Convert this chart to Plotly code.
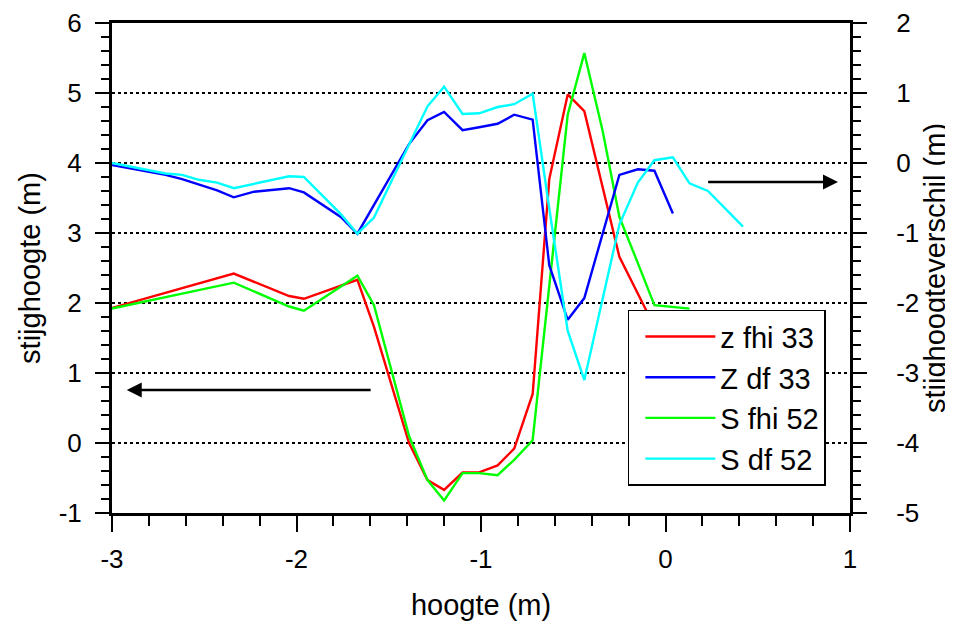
import plotly.graph_objects as go

# ---- data (left axis: stijghoogte, right axis: stijghoogteverschil) ----
x_z_fhi_33 = [-3.0, -2.34, -2.04, -1.96, -1.67, -1.58, -1.39, -1.29, -1.20, -1.10,
              -1.01, -0.91, -0.82, -0.72, -0.63, -0.53, -0.44, -0.25, -0.06]
y_z_fhi_33 = [1.93, 2.42, 2.10, 2.06, 2.33, 1.66, 0.00, -0.53, -0.67, -0.42,
              -0.42, -0.32, -0.08, 0.70, 3.77, 4.98, 4.74, 2.66, 1.66]

x_Z_df_33 = [-3.0, -2.71, -2.62, -2.53, -2.43, -2.34, -2.23, -2.04, -1.96, -1.76,
             -1.67, -1.39, -1.29, -1.20, -1.10, -1.01, -0.91, -0.82, -0.72, -0.63,
             -0.53, -0.44, -0.25, -0.15, -0.06, 0.04]
y_Z_df_33 = [-0.03, -0.17, -0.23, -0.31, -0.39, -0.49, -0.41, -0.36, -0.42, -0.77,
             -1.01, 0.27, 0.61, 0.73, 0.47, 0.51, 0.56, 0.69, 0.62, -1.46,
             -2.24, -1.93, -0.17, -0.09, -0.11, -0.72]

x_S_fhi_52 = [-3.0, -2.34, -2.04, -1.96, -1.67, -1.58, -1.39, -1.29, -1.20, -1.10,
              -1.01, -0.91, -0.82, -0.72, -0.53, -0.44, -0.34, -0.25, -0.15, -0.06, 0.13]
y_S_fhi_52 = [1.92, 2.29, 1.95, 1.89, 2.39, 1.97, 0.10, -0.53, -0.82, -0.43,
              -0.43, -0.46, -0.24, 0.04, 4.69, 5.57, 4.45, 3.23, 2.57, 1.97, 1.92]

x_S_df_52 = [-3.0, -2.71, -2.62, -2.53, -2.43, -2.34, -2.04, -1.96, -1.76, -1.67,
             -1.58, -1.39, -1.29, -1.20, -1.10, -1.01, -0.91, -0.82, -0.72, -0.63,
             -0.53, -0.44, -0.25, -0.15, -0.06, 0.04, 0.13, 0.23, 0.42]
y_S_df_52 = [0.00, -0.15, -0.17, -0.24, -0.28, -0.36, -0.19, -0.20, -0.73, -1.01,
             -0.78, 0.27, 0.81, 1.09, 0.70, 0.71, 0.80, 0.84, 0.99, -0.65,
             -2.40, -3.10, -0.88, -0.28, 0.04, 0.08, -0.29, -0.40, -0.91]

# tick labels (plain hyphen minus, as in the original)
x_ticks = [-3, -2, -1, 0, 1]
x_ticklabels = ["-3", "-2", "-1", "0", "1"]
y_ticks = [-1, 0, 1, 2, 3, 4, 5, 6]
y_ticklabels = ["-1", "0", "1", "2", "3", "4", "5", "6"]
y2_ticks = [-5, -4, -3, -2, -1, 0, 1, 2]
y2_ticklabels = ["-5", "-4", "-3", "-2", "-1", "0", "1", "2"]

FONT = "Liberation Sans, Arial, sans-serif"
LW = 2.4
TICKFS = 26
TITLEFS = 29

fig = go.Figure()
fig.add_trace(go.Scatter(x=x_z_fhi_33, y=y_z_fhi_33, name="z fhi 33", mode="lines",
                         line=dict(color="#FF0000", width=LW), legendgroup="a"))
fig.add_trace(go.Scatter(x=x_Z_df_33, y=y_Z_df_33, name="Z df 33", mode="lines", yaxis="y2",
                         line=dict(color="#0000FF", width=LW), legendgroup="b"))
fig.add_trace(go.Scatter(x=x_S_fhi_52, y=y_S_fhi_52, name="S fhi 52", mode="lines",
                         line=dict(color="#00FF00", width=LW), legendgroup="c"))
fig.add_trace(go.Scatter(x=x_S_df_52, y=y_S_df_52, name="S df 52", mode="lines", yaxis="y2",
                         line=dict(color="#00FFFF", width=LW), legendgroup="d"))

axis_common = dict(showline=True, linewidth=3, linecolor="black", zeroline=False,
                   ticks="outside", tickwidth=2, tickcolor="black", automargin=False,
                   tickfont=dict(family=FONT, size=TICKFS, color="black"))

# the page body adds an 8px offset, so the figure is 8px smaller on each side
fig.update_layout(
    width=945, height=618,
    margin=dict(l=104, r=103, t=15, b=113),
    paper_bgcolor="white", plot_bgcolor="white",
    font=dict(family=FONT, size=TICKFS, color="black"),
    xaxis=dict(range=[-3, 1], tickmode="array", tickvals=x_ticks, ticktext=x_ticklabels,
               ticklen=16, mirror=True, showgrid=False,
               minor=dict(tickmode="linear", tick0=-3, dtick=0.2, ticks="outside", ticklen=10,
                          tickwidth=2, tickcolor="black", showgrid=False),
               ticklabelstandoff=5,
               title=dict(text="hoogte (m)", standoff=22, font=dict(family=FONT, size=TITLEFS)),
               **axis_common),
    yaxis=dict(range=[-1, 6], tickmode="array", tickvals=y_ticks, ticktext=y_ticklabels,
               ticklen=14,
               showgrid=True, gridcolor="black", griddash="dot", gridwidth=1.5,
               minor=dict(tickmode="linear", tick0=-1, dtick=0.2, ticks="outside", ticklen=8,
                          tickwidth=2, tickcolor="black", showgrid=False),
               ticklabelstandoff=8,
               title=dict(text="stijghoogte (m)", standoff=10, font=dict(family=FONT, size=TITLEFS)),
               **axis_common),
    yaxis2=dict(range=[-5, 2], tickmode="array", tickvals=y2_ticks, ticktext=y2_ticklabels,
                ticklen=14, overlaying="y", side="right",
                showgrid=False,
                minor=dict(tickmode="linear", tick0=-5, dtick=0.2, ticks="outside", ticklen=8,
                           tickwidth=2, tickcolor="black", showgrid=False),
                ticklabelstandoff=24,
                title=dict(text="stijghoogteverschil (m)", standoff=5, font=dict(family=FONT, size=TITLEFS)),
                **axis_common),
    legend=dict(x=0.699, y=0.415, xanchor="left", yanchor="top",
                bgcolor="white", bordercolor="black", borderwidth=1.5,
                font=dict(family=FONT, size=29, color="black"),
                tracegroupgap=0, itemwidth=70, indentation=11),
    showlegend=True,
)

# arrows
fig.add_annotation(x=-2.92, y=0.757, ax=-1.59, ay=0.757, xref="x", yref="y", axref="x", ayref="y",
                   showarrow=True, arrowhead=2, arrowsize=1.2, arrowwidth=2.5, arrowcolor="black", text="")
fig.add_annotation(x=0.935, y=-0.27, ax=0.223, ay=-0.27, xref="x", yref="y2", axref="x", ayref="y2",
                   showarrow=True, arrowhead=2, arrowsize=1.2, arrowwidth=2.5, arrowcolor="black", text="")

fig.write_html("out.html")
